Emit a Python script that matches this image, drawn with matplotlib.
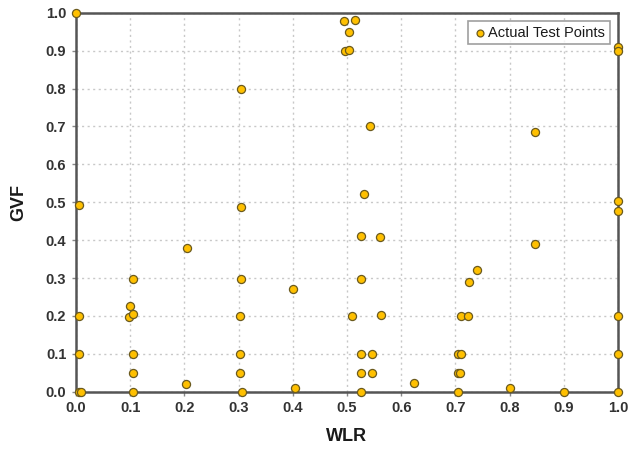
import matplotlib
matplotlib.use("Agg")
import matplotlib.pyplot as plt
import numpy as np

wlr = [0.0, 0.006, 0.006, 0.006, 0.006, 0.01,
       0.105, 0.099, 0.098, 0.105, 0.105, 0.105, 0.106,
       0.205, 0.203,
       0.304, 0.304, 0.304, 0.303, 0.303, 0.303, 0.306,
       0.400, 0.404,
       0.495, 0.515, 0.503, 0.497, 0.503,
       0.542, 0.531, 0.526, 0.560, 0.525, 0.509, 0.562,
       0.525, 0.546, 0.525, 0.546, 0.525,
       0.624,
       0.740, 0.725, 0.710, 0.724, 0.705, 0.711, 0.704, 0.708, 0.705,
       0.801, 0.846, 0.847, 0.900,
       1.0, 1.0, 1.0, 1.0, 1.0, 1.0, 1.0]
gvf = [1.0, 0.493, 0.2, 0.1, 0.0, 0.0,
       0.297, 0.227, 0.197, 0.204, 0.099, 0.05, 0.0,
       0.379, 0.02,
       0.80, 0.487, 0.298, 0.2, 0.1, 0.05, 0.0,
       0.270, 0.009,
       0.979, 0.981, 0.950, 0.899, 0.901,
       0.701, 0.522, 0.41, 0.407, 0.298, 0.2, 0.202,
       0.1, 0.1, 0.05, 0.05, 0.0,
       0.022,
       0.321, 0.290, 0.2, 0.2, 0.1, 0.1, 0.05, 0.05, 0.0,
       0.009, 0.686, 0.389, 0.0,
       0.91, 0.90, 0.503, 0.478, 0.2, 0.1, 0.0]

ticks = [0.0, 0.1, 0.2, 0.3, 0.4, 0.5, 0.6, 0.7, 0.8, 0.9, 1.0]
tick_labels = ["0.0", "0.1", "0.2", "0.3", "0.4", "0.5", "0.6", "0.7", "0.8", "0.9", "1.0"]

plt.rcParams['font.family'] = ['Liberation Sans', 'DejaVu Sans']

fig = plt.figure(figsize=(6.31, 4.49), dpi=100)
ax = fig.add_axes([76/631, 1-391.7/449, (618-76)/631, (391.7-12.7)/449])

ax.scatter(wlr, gvf, s=34, facecolor='#FFC000', edgecolor='#6B5A1E', linewidth=0.9,
           zorder=5, clip_on=False, label='Actual Test Points')

ax.set_xlim(0, 1.0)
ax.set_ylim(0, 1.0)
ax.set_xticks(ticks)
ax.set_xticklabels(tick_labels)
ax.set_yticks(ticks)
ax.set_yticklabels(tick_labels)
ax.grid(True, linestyle=(0, (1.5, 2.5)), color='#C8C8C8', linewidth=1.0)
ax.set_axisbelow(True)
for sp in ax.spines.values():
    sp.set_color('#555555')
    sp.set_linewidth(1.8)
ax.tick_params(axis='both', length=3, width=1, color='#888888', labelsize=10.5, labelcolor='#333333', pad=4)
for lab in ax.get_xticklabels() + ax.get_yticklabels():
    lab.set_fontweight('bold')

ax.set_xlabel('WLR', fontsize=13, fontweight='bold', color='#1A1A1A', labelpad=9)
ax.set_ylabel('GVF', fontsize=13, fontweight='bold', color='#1A1A1A', labelpad=13)

leg = ax.legend(loc='upper right', bbox_to_anchor=(0.99, 0.985), fontsize=10.5, frameon=True,
                fancybox=False, handletextpad=0.1, borderpad=0.3, handlelength=1.0,
                markerscale=0.85, borderaxespad=0.2)
leg.get_frame().set_edgecolor('#888888')
leg.get_frame().set_linewidth(1.2)
for t in leg.get_texts():
    t.set_color('#1A1A1A')

fig.savefig('out.png', dpi=100)
